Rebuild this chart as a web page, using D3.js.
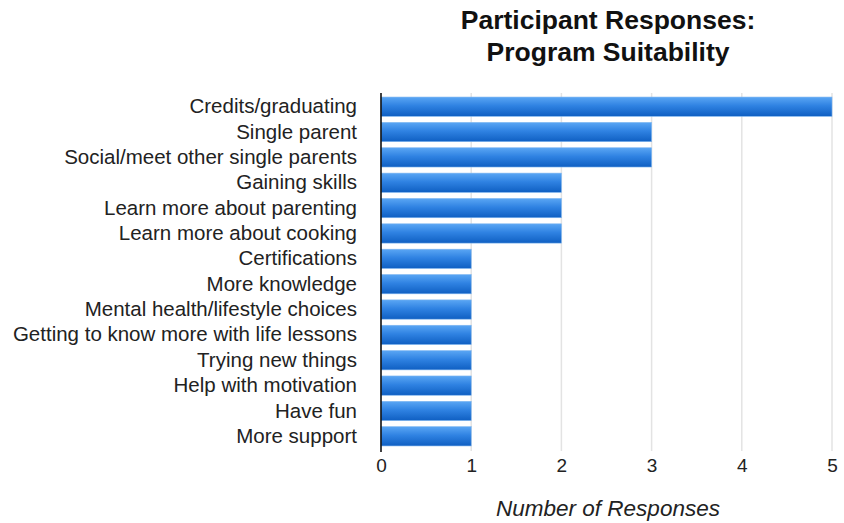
<!DOCTYPE html>
<html>
<head>
<meta charset="utf-8">
<script src="https://cdn.jsdelivr.net/npm/d3@7"></script>
<style>
  body { margin: 0; background: #fff; }
  svg { display: block; font-family: "Liberation Sans", Arial, sans-serif; }
</style>
</head>
<body>
<svg id="chart" width="844" height="523"></svg>
<script>
const categories = [
  "Credits/graduating",
  "Single parent",
  "Social/meet other single parents",
  "Gaining skills",
  "Learn more about parenting",
  "Learn more about cooking",
  "Certifications",
  "More knowledge",
  "Mental health/lifestyle choices",
  "Getting to know more with life lessons",
  "Trying new things",
  "Help with motivation",
  "Have fun",
  "More support"
];
const responses = [5, 3, 3, 2, 2, 2, 1, 1, 1, 1, 1, 1, 1, 1];
const xTicks = [0, 1, 2, 3, 4, 5];

const svg = d3.select("#chart");
const plotLeft = 381, plotRight = 832, plotTop = 94, plotBottom = 449;

const x = d3.scaleLinear().domain([0, 5]).range([plotLeft, plotRight]);
const y = d3.scaleBand().domain(categories).range([plotTop, plotBottom]).paddingInner(0.24).paddingOuter(0.12);

const defs = svg.append("defs");
const grad = defs.append("linearGradient").attr("id", "barFill")
  .attr("x1", 0).attr("y1", 0).attr("x2", 0).attr("y2", 1);
grad.append("stop").attr("offset", "0%").attr("stop-color", "#5aa6f4");
grad.append("stop").attr("offset", "45%").attr("stop-color", "#2f82e2");
grad.append("stop").attr("offset", "100%").attr("stop-color", "#0f5fc2");

// vertical grid lines
svg.append("g").selectAll("line").data(xTicks.filter(d => d > 0)).join("line")
  .attr("x1", d => x(d)).attr("x2", d => x(d))
  .attr("y1", plotTop - 1).attr("y2", plotBottom + 2)
  .attr("stroke", "#e3e3e3").attr("stroke-width", 1.5);

// bars
svg.append("g").selectAll("rect").data(categories).join("rect")
  .attr("x", x(0))
  .attr("y", d => y(d))
  .attr("width", (d, i) => x(responses[i]) - x(0))
  .attr("height", y.bandwidth())
  .attr("fill", "url(#barFill)")
  .attr("stroke", "#7fb6f0").attr("stroke-width", 0.6);

// category axis
const yAxis = svg.append("g").attr("transform", `translate(${plotLeft},0)`)
  .call(d3.axisLeft(y).tickSize(0).tickPadding(24));
yAxis.select(".domain").remove();
yAxis.selectAll("text").attr("font-size", 20.5).attr("fill", "#222")
  .attr("font-family", "Liberation Sans, Arial, sans-serif");

svg.append("line")
  .attr("x1", plotLeft).attr("x2", plotLeft)
  .attr("y1", plotTop - 1).attr("y2", plotBottom + 3)
  .attr("stroke", "#111").attr("stroke-width", 1.6);

// value axis
const xAxis = svg.append("g").attr("transform", `translate(0,${plotBottom})`)
  .call(d3.axisBottom(x).tickValues(xTicks).tickFormat(d3.format("d")).tickSize(0).tickPadding(10));
xAxis.select(".domain").remove();
xAxis.selectAll("text").attr("font-size", 19).attr("fill", "#222")
  .attr("font-family", "Liberation Sans, Arial, sans-serif");

// title
const title = svg.append("text").attr("x", 608).attr("text-anchor", "middle")
  .attr("font-size", 26.5).attr("font-weight", "bold").attr("fill", "#111");
title.append("tspan").attr("x", 608).attr("y", 29).text("Participant Responses:");
title.append("tspan").attr("x", 608).attr("y", 61).text("Program Suitability");

// axis title
svg.append("text").attr("x", 608).attr("y", 516).attr("text-anchor", "middle")
  .attr("font-size", 22.5).attr("font-style", "italic").attr("fill", "#222")
  .text("Number of Responses");
</script>
</body>
</html>
